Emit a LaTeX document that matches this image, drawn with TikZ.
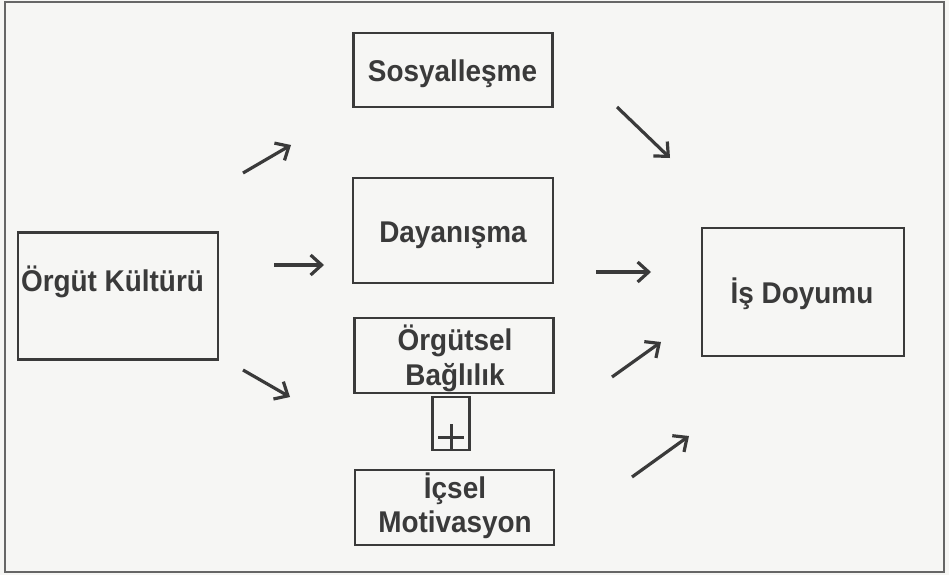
\documentclass[tikz,border=0pt]{standalone}
\usepackage{fontspec}
\setmainfont[FakeStretch=0.93]{Liberation Sans}
\usetikzlibrary{arrows.meta}
\definecolor{paper}{HTML}{F6F6F4}
\definecolor{ink}{HTML}{3A3A3A}
\definecolor{frame}{HTML}{666666}
\tikzset{
  box/.style={draw=ink, line width=2.2pt, inner sep=0pt, fill=none},
  lbl/.style={anchor=base, inner sep=0pt, text=ink, font=\fontsize{30}{34}\selectfont\bfseries},
  arr/.style={draw=ink, line width=3.2pt, -{Straight Barb[length=11pt,width=20pt,line width=3.2pt]}},
}
\begin{document}
\begin{tikzpicture}[x=1pt,y=-1pt]
\useasboundingbox (0,0) rectangle (949,575);
\fill[paper] (0,0) rectangle (949,575);
\draw[frame, line width=2.5pt] (5,2) rectangle (944,572);

% boxes
\node[box, minimum width=200pt, minimum height=127pt] (ok) at (118,296) {};
\node[box, minimum width=199pt, minimum height=74pt] (sos) at (453,70) {};
\node[box, minimum width=200pt, minimum height=105pt] (day) at (453,230.5) {};
\node[box, minimum width=199pt, minimum height=75pt] (orb) at (454,355.5) {};
\node[box, minimum width=37pt, minimum height=53pt] (plus) at (451,423.5) {};
\node[box, minimum width=199pt, minimum height=75pt] (icm) at (454.5,507.5) {};
\node[box, minimum width=202pt, minimum height=128pt] (isd) at (803,292) {};

% labels
\node[lbl] (okt) at (112.5,291) {Örgüt Kültürü};
\node[lbl] (sost) at (452.5,82) {Sosyalleşme};
\node[lbl] (dayt) at (453,242) {Dayanışma};
\node[lbl] (orb1) at (455,350) {Örgütsel};
\node[lbl] (orb2) at (455,385) {Bağlılık};
\node[lbl] (icm1) at (455,498) {İçsel};
\node[lbl] (icm2) at (455,532) {Motivasyon};
\node[lbl] (isdt) at (802,303) {İş Doyumu};
\draw[ink, line width=3pt] (438,437) -- (464,437) (451,424) -- (451,450);

% arrow end points
\coordinate (a1s) at (243,173); \coordinate (a1e) at (291,145);
\coordinate (a2s) at (274,265); \coordinate (a2e) at (324,265);
\coordinate (a3s) at (243,370); \coordinate (a3e) at (290,397);
\coordinate (b1s) at (617,107); \coordinate (b1e) at (670,158);
\coordinate (b2s) at (596,272); \coordinate (b2e) at (651,272);
\coordinate (b3s) at (612,377); \coordinate (b3e) at (661,342);
\coordinate (b4s) at (632,477); \coordinate (b4e) at (689,436);

\draw[arr] (a1s) -- (a1e);
\draw[arr] (a2s) -- (a2e);
\draw[arr] (a3s) -- (a3e);
\draw[arr] (b1s) -- (b1e);
\draw[arr] (b2s) -- (b2e);
\draw[arr] (b3s) -- (b3e);
\draw[arr] (b4s) -- (b4e);
\end{tikzpicture}
\end{document}
